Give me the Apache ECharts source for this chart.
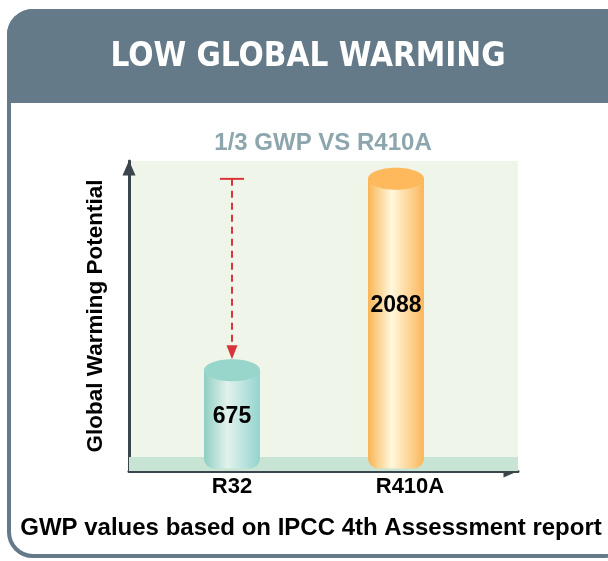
<!DOCTYPE html>
<html><head><meta charset="utf-8">
<script src="https://cdn.jsdelivr.net/npm/echarts@6/dist/echarts.min.js"></script>
<style>html,body{margin:0;padding:0;background:#fff}#c{width:608px;height:561px}</style>
</head><body><div id="c"></div>
<script>
// ---- data ----
const categories = ['R32', 'R410A'];
const gwpValues = [675, 2088];
const titleText = 'LOW GLOBAL WARMING';
const subtitleText = '1/3 GWP VS R410A';
const yAxisTitle = 'Global Warming Potential';
const footnote = 'GWP values based on IPCC 4th Assessment report';

// ---- styles ----
const NARROW = "'Liberation Sans Narrow', 'DejaVu Sans Condensed', sans-serif";
const SANS = "'Liberation Sans', Arial, sans-serif";
const SLATE = '#647a89';
const AXIS = '#3b454c';
const bodyStops = [
  [[0, '#8fcfc3'], [0.42, '#e2f2ec'], [1, '#94d4cf']],
  [[0, '#f9b455'], [0.42, '#fff8dd'], [1, '#fbb65a']]
];
const topColors = ['#98d5ca', '#fdb95c'];
const labelFraction = [0.49, 0.55];   // where the value text sits up each cylinder
const BAR_W = 56, TOP_RY = 11, BOTTOM_EXT = 7;

const chart = echarts.init(document.getElementById('c'), null, {renderer: 'canvas'});

const cylData = categories.map((c, i) => [i, gwpValues[i]]);

function renderCylinder(params, api) {
  const i = params.dataIndex;
  const x = api.value(0), v = api.value(1);
  const top = api.coord([x, v]);
  const base = api.coord([x, 0]);
  const mid = api.coord([x, v * labelFraction[i]]);
  const grad = new echarts.graphic.LinearGradient(0, 0, 1, 0,
    bodyStops[i].map(s => ({offset: s[0], color: s[1]})));
  return {
    type: 'group',
    children: [
      {type: 'rect', shape: {x: top[0] - BAR_W / 2, y: top[1], width: BAR_W,
        height: base[1] + BOTTOM_EXT - top[1], r: [0, 0, 10, 10]}, style: {fill: grad}},
      {type: 'ellipse', shape: {cx: top[0], cy: top[1], rx: BAR_W / 2, ry: TOP_RY},
        style: {fill: topColors[i]}},
      {type: 'text', style: {text: String(v), x: top[0], y: mid[1],
        align: 'center', verticalAlign: 'middle', textAlign: 'center', textVerticalAlign: 'middle',
        font: 'bold 23px ' + SANS, fill: '#000'}}
    ]
  };
}

function renderArrow(params, api) {
  const x = api.value(0);
  const p1 = api.coord([x, api.value(1)]);
  const p2 = api.coord([x, api.value(2)]);
  const tipY = p2[1] - TOP_RY;
  const ah = 14, aw = 11;
  const red = '#d8343b';
  return {
    type: 'group',
    children: [
      {type: 'line', shape: {x1: p1[0] - 12, y1: p1[1], x2: p1[0] + 12, y2: p1[1]},
        style: {stroke: red, lineWidth: 2}},
      {type: 'line', shape: {x1: p1[0], y1: p1[1], x2: p1[0], y2: tipY - ah + 1},
        style: {stroke: red, lineWidth: 2, lineDash: [7, 5]}},
      {type: 'polygon', shape: {points: [[p1[0] - aw / 2, tipY - ah], [p1[0] + aw / 2, tipY - ah], [p1[0], tipY]]},
        style: {fill: red}}
    ]
  };
}

const labelFont = {color: '#000', fontFamily: SANS, fontWeight: 'bold', fontSize: 22};

const option = {
  animation: false,
  graphic: [
    {type: 'rect', z: -100, shape: {x: 9, y: 11, width: 620, height: 545, r: 24},
      style: {fill: '#fff', stroke: SLATE, lineWidth: 4}},
    {type: 'rect', z: -99, shape: {x: 7, y: 9, width: 624, height: 94, r: [26, 26, 0, 0]},
      style: {fill: SLATE}}
  ],
  title: [
    {text: titleText, left: 308, top: 41, textAlign: 'center', padding: 0,
      textStyle: {color: '#fff', fontFamily: NARROW, fontWeight: 'bold', fontSize: 33}},
    {text: subtitleText, left: 323, top: 131, textAlign: 'center', padding: 0,
      textStyle: {color: '#8da6ae', fontFamily: SANS, fontWeight: 'bold', fontSize: 24}},
    {text: footnote, left: 311, top: 516, textAlign: 'center', padding: 0,
      textStyle: {color: '#000', fontFamily: SANS, fontWeight: 'bold', fontSize: 24}}
  ],
  grid: {left: 129, right: 90, top: 161, bottom: 90, show: true,
    backgroundColor: '#eff5e8', borderWidth: 0},
  xAxis: {
    type: 'value', min: -0.628, max: 1.744,
    splitLine: {show: false},
    axisTick: {show: false},
    axisLine: {show: true, onZero: false, symbol: ['none', 'triangle'], symbolSize: [13, 15],
      symbolOffset: [0, -7], lineStyle: {color: AXIS, width: 3}},
    axisLabel: {customValues: [0, 1], margin: 5,
      formatter: v => { const i = Math.round(v); return '{c' + i + '|' + categories[i] + '}'; },
      rich: {c0: Object.assign({}, labelFont),
             c1: Object.assign({padding: [0, 0, 0, 28]}, labelFont)},
      ...labelFont}
  },
  yAxis: {
    type: 'value', min: -70, max: 2220,
    name: yAxisTitle, nameLocation: 'middle', nameRotate: 90, nameGap: 22,
    nameTextStyle: {color: '#000', fontFamily: SANS, fontWeight: 'bold', fontSize: 22.5},
    splitLine: {show: false},
    axisTick: {show: false},
    axisLabel: {show: false},
    axisLine: {show: true, onZero: false, symbol: ['none', 'triangle'], symbolSize: [13, 15],
      symbolOffset: [0, -7], lineStyle: {color: AXIS, width: 3}}
  },
  series: [
    {type: 'custom', name: 'GWP', data: cylData, renderItem: renderCylinder, z: 3,
      markArea: {silent: true, itemStyle: {color: '#c8e4d4'},
        data: [[{yAxis: -70}, {yAxis: 33}]]}},
    {type: 'custom', name: 'reduction', data: [[0, gwpValues[1], gwpValues[0]]],
      renderItem: renderArrow, z: 4}
  ]
};
chart.setOption(option);
</script></body></html>
